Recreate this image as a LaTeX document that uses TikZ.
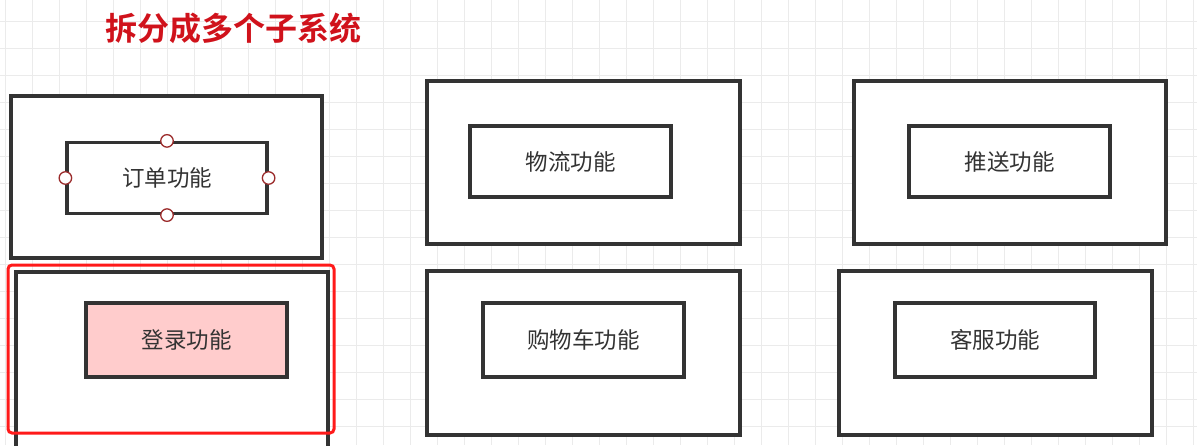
\documentclass[tikz,border=0pt]{standalone}
\usepackage{fontspec}
\newfontfamily\cjk{Noto Sans CJK SC}
\newfontfamily\cjkbold{Noto Sans CJK SC Bold}
\definecolor{gridc}{HTML}{EBEBEB}
\definecolor{boxc}{HTML}{333333}
\definecolor{redc}{HTML}{FF1A1A}
\definecolor{titlec}{HTML}{D0121B}
\definecolor{pinkc}{HTML}{FFCCCC}
\definecolor{handlec}{HTML}{9B2B2B}
\tikzset{
  outerbox/.style={draw=boxc, line width=3.2pt, fill=white},
  innerbox/.style={draw=boxc, line width=3.2pt, fill=white, inner sep=0pt,
    font=\cjk\fontsize{22.5}{22.5}\selectfont, text=boxc},
  handle/.style={circle, draw=handlec, line width=1.3pt, fill=white, minimum size=12.5pt, inner sep=0pt},
}
\begin{document}
\begin{tikzpicture}[x=1pt,y=-1pt]
\useasboundingbox (0,0) rectangle (1197,445);
\clip (0,0) rectangle (1197,445);
\fill[white] (0,0) rectangle (1197,445);
% grid
\foreach \i in {0,...,44} {\draw[gridc, line width=1pt] (5+27*\i,0) -- (5+27*\i,445);}
\foreach \j in {0,...,16} {\draw[gridc, line width=1pt] (0,21+27*\j) -- (1197,21+27*\j);}
% title
\node[font=\cjkbold\fontsize{32}{32}\selectfont, text=titlec] (title) at (233,28) {拆分成多个子系统};
% outer boxes
\draw[outerbox] (11,96) rectangle (322,258);
\draw[outerbox] (16,272) rectangle (328,460);
\draw[outerbox] (427,81) rectangle (740,244);
\draw[outerbox] (854,81) rectangle (1166,244);
\draw[outerbox] (427,271) rectangle (740,435);
\draw[outerbox] (839,271) rectangle (1152,435);
% inner boxes
\node[innerbox, minimum width=200pt, minimum height=71pt] (order) at (167,178) {\raisebox{-2pt}{订单功能}};
\node[innerbox, fill=pinkc, minimum width=201pt, minimum height=74pt] (login) at (186.5,340) {\raisebox{-2pt}{登录功能}};
\node[innerbox, minimum width=201pt, minimum height=71pt] (logi) at (570.5,161.5) {\raisebox{-2pt}{物流功能}};
\node[innerbox, minimum width=201pt, minimum height=71pt] (push) at (1009.5,161.5) {\raisebox{-2pt}{推送功能}};
\node[innerbox, minimum width=201pt, minimum height=74pt] (cart) at (583.5,340) {\raisebox{-2pt}{购物车功能}};
\node[innerbox, minimum width=200pt, minimum height=74pt] (serv) at (995,340) {\raisebox{-2pt}{客服功能}};
% handles
\node[handle] (h1) at (order.north) {};
\node[handle] (h2) at (order.south) {};
\node[handle] (h3) at (order.west) {};
\node[handle] (h4) at (order.east) {};
% red highlight
\draw[redc, line width=3pt, rounded corners=4pt] (8,265) rectangle (334,433);
\end{tikzpicture}
\end{document}
